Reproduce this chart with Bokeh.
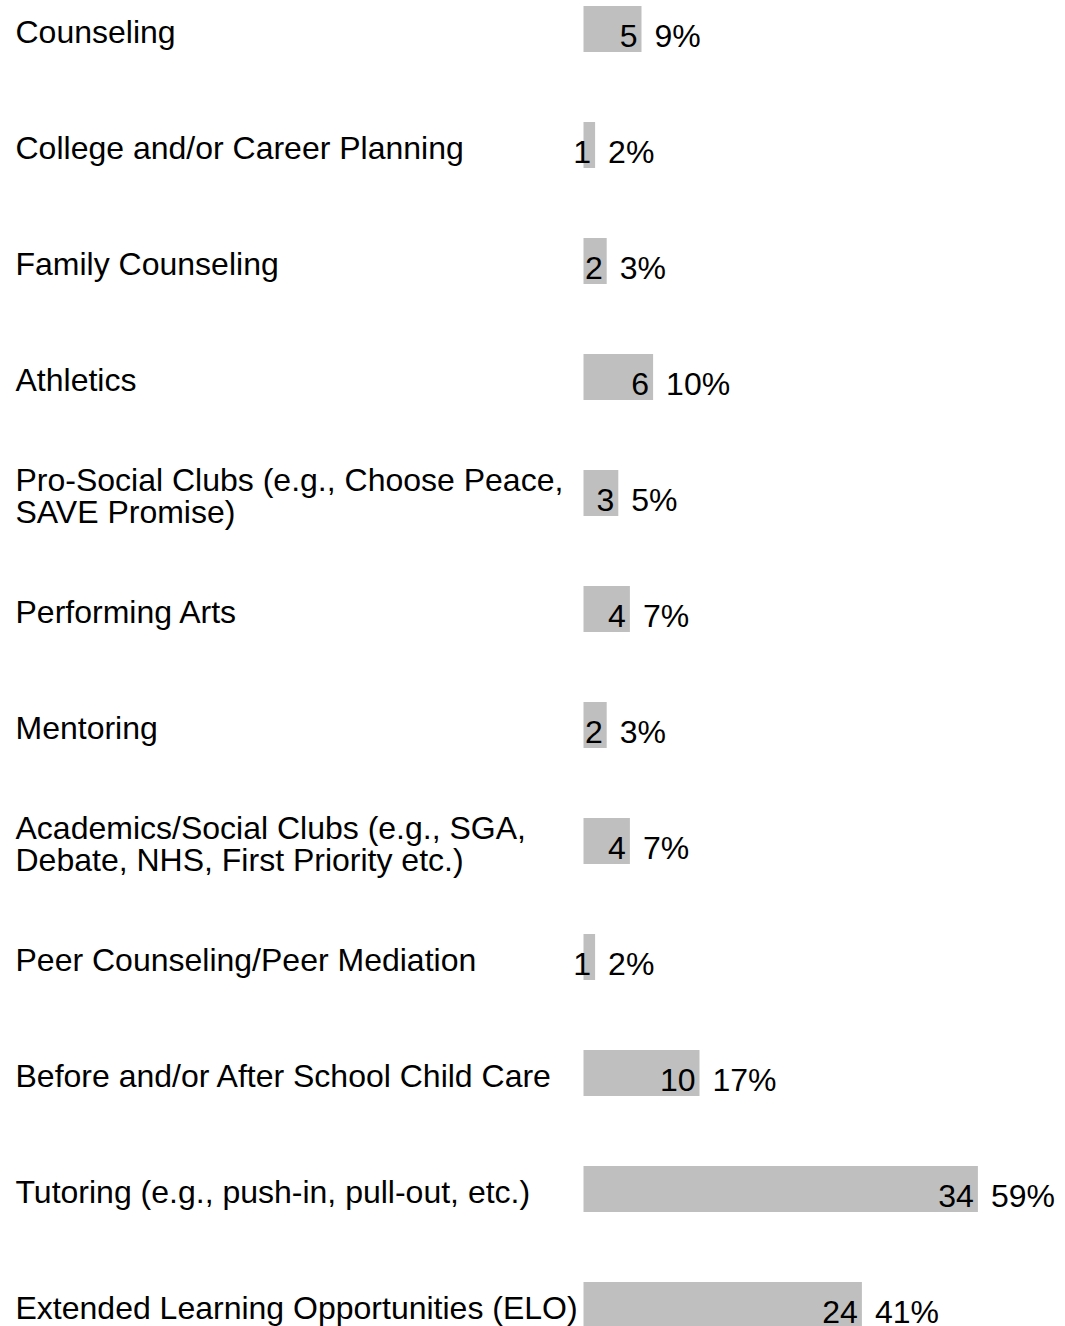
from bokeh.plotting import figure
from bokeh.models import ColumnDataSource, Range1d
from bokeh.core.properties import value
from bokeh.embed import file_html
from bokeh.resources import INLINE

# ---- data ----
categories = [
    "Counseling",
    "College and/or Career Planning",
    "Family Counseling",
    "Athletics",
    "Pro-Social Clubs (e.g., Choose Peace,\nSAVE Promise)",
    "Performing Arts",
    "Mentoring",
    "Academics/Social Clubs (e.g., SGA,\nDebate, NHS, First Priority etc.)",
    "Peer Counseling/Peer Mediation",
    "Before and/or After School Child Care",
    "Tutoring (e.g., push-in, pull-out, etc.)",
    "Extended Learning Opportunities (ELO)",
]
counts = [5, 1, 2, 6, 3, 4, 2, 4, 1, 10, 34, 24]
percent_labels = ["9%", "2%", "3%", "10%", "5%", "7%", "3%", "7%", "2%", "17%", "59%", "41%"]

# ---- layout ----
W, H = 1065, 1326
px_per_unit = 11.6
bar_left_px = 583
row_top_px = 28.5
row_step_px = 116.0

x0 = -bar_left_px / px_per_unit
x1 = (W - bar_left_px) / px_per_unit
y_top = -row_top_px / row_step_px
y_bot = (H - row_top_px) / row_step_px

rows = list(range(len(categories)))
src = ColumnDataSource(dict(
    y=rows,
    count=counts,
    count_txt=[str(c) for c in counts],
    pct=percent_labels,
    label=categories,
    lx=[x0] * len(rows),
))

p = figure(width=W, height=H, output_backend="svg", toolbar_location=None,
           x_range=Range1d(x0, x1), y_range=Range1d(y_bot, y_top),
           min_border=0, min_border_left=0, min_border_right=0,
           min_border_top=0, min_border_bottom=0)
p.axis.visible = False
p.grid.visible = False
p.outline_line_color = None
p.background_fill_color = "white"
p.border_fill_color = "white"

p.hbar(y="y", left=0, right="count", height=46 / row_step_px, source=src,
       fill_color="#bfbfbf", line_color=None)

font = value("Liberation Sans")
fs = "32px"

p.text(x="lx", y="y", text="label", source=src, x_offset=15, y_offset=3,
       text_font=font, text_font_size=fs, text_color="black",
       text_align="left", text_baseline="middle", text_line_height=0.9)

p.text(x="count", y="y", text="count_txt", source=src, x_offset=-4, y_offset=7,
       text_font=font, text_font_size=fs, text_color="black",
       text_align="right", text_baseline="middle")

p.text(x="count", y="y", text="pct", source=src, x_offset=13, y_offset=7,
       text_font=font, text_font_size=fs, text_color="black",
       text_align="left", text_baseline="middle")

open("out.html", "w").write(file_html(p, INLINE))
